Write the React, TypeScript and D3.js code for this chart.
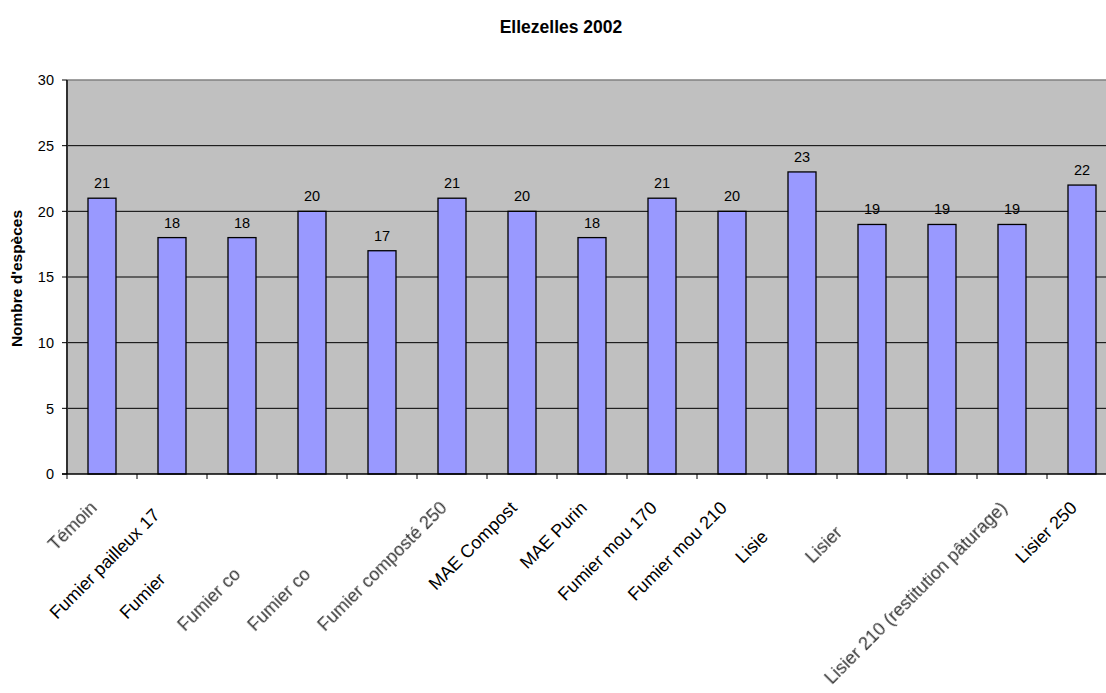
import React from "react";
import * as d3 from "d3";

const title = "Ellezelles 2002";
const yTitle = "Nombre d'espèces";
const categories = [
  "Témoin",
  "Fumier pailleux 170",
  "Fumier pailleux 210",
  "Fumier composté 170",
  "Fumier composté 210",
  "Fumier composté 250",
  "MAE Compost",
  "MAE Purin",
  "Fumier mou 170",
  "Fumier mou 210",
  "Lisier 170",
  "Lisier 210",
  "Lisier 170 (restitution pâturage)",
  "Lisier 210 (restitution pâturage)",
  "Lisier 250",
];
// part of each label that is visible in the reference (the rest is clipped)
const shownLabels = [
  "Témoin",
  "Fumier pailleux 17",
  "Fumier",
  "Fumier co",
  "Fumier co",
  "Fumier composté 250",
  "MAE Compost",
  "MAE Purin",
  "Fumier mou 170",
  "Fumier mou 210",
  "Lisie",
  "Lisier",
  "",
  "Lisier 210 (restitution pâturage)",
  "Lisier 250",
];
const values = [21, 18, 18, 20, 17, 21, 20, 18, 21, 20, 23, 19, 19, 19, 22];
const yTicks = [0, 5, 10, 15, 20, 25, 30];
const fadedLabels = [0, 3, 4, 5, 11, 13];

const W = 1106;
const H = 693;
const FONT = "'Liberation Sans', Arial, Helvetica, sans-serif";
const X_LABEL_SIZE = 18;

const plot = { left: 67, top: 80, bottom: 474, step: 70 };

function measure(text: string, size: number): number {
  if (typeof document === "undefined") return text.length * size * 0.55;
  const c = document.createElement("canvas");
  const ctx = c.getContext("2d");
  if (!ctx) return text.length * size * 0.55;
  ctx.font = `${size}px 'Liberation Sans', Arial, sans-serif`;
  return ctx.measureText(text).width;
}

export default function App() {
  const x = d3
    .scaleBand<string>()
    .domain(categories)
    .range([plot.left, plot.left + plot.step * categories.length])
    .padding(0);
  const y = d3.scaleLinear().domain([0, 30]).range([plot.bottom, plot.top]);
  const barW = x.bandwidth() * 0.4;
  const right = plot.left + plot.step * categories.length;

  return (
    <svg
      width={W}
      height={H}
      style={{ position: "absolute", left: 0, top: 0, background: "#fff" }}
      fontFamily={FONT}
    >
      <defs>
        <filter id="soft" x="-5%" y="-5%" width="110%" height="110%">
          <feGaussianBlur stdDeviation="0.55" />
        </filter>
      </defs>
      <rect x={0} y={0} width={W} height={H} fill="#fff" />
      <text x={561} y={33} textAnchor="middle" fontWeight="bold" fontSize={17.5}>
        {title}
      </text>
      {/* plot area */}
      <rect
        x={plot.left}
        y={plot.top}
        width={right - plot.left}
        height={plot.bottom - plot.top}
        fill="#C0C0C0"
      />
      <line x1={plot.left} x2={right} y1={y(30)} y2={y(30)} stroke="#808080" strokeWidth={1.5} />
      {yTicks
        .filter((t) => t > 0 && t < 30)
        .map((t) => (
          <line key={t} x1={plot.left} x2={right} y1={y(t)} y2={y(t)} stroke="#000" strokeWidth={1} />
        ))}
      {/* bars */}
      {values.map((v, i) => {
        const cx = (x(categories[i]) as number) + x.bandwidth() / 2;
        return (
          <g key={i}>
            <rect
              x={cx - barW / 2}
              y={y(v)}
              width={barW}
              height={y(0) - y(v)}
              fill="#9999FF"
              stroke="#000"
              strokeWidth={1.3}
            />
            <text x={cx} y={y(v) - 10} textAnchor="middle" fontSize={14.5} fill="#000">
              {v}
            </text>
          </g>
        );
      })}
      {/* axes */}
      <line x1={plot.left} x2={plot.left} y1={plot.top} y2={plot.bottom} stroke="#303030" strokeWidth={2} />
      <line x1={plot.left - 5} x2={right} y1={plot.bottom} y2={plot.bottom} stroke="#000" strokeWidth={1.5} />
      {yTicks.map((t) => (
        <g key={t}>
          <line x1={plot.left - 5} x2={plot.left} y1={y(t)} y2={y(t)} stroke="#000" strokeWidth={1} />
          <text x={54} y={y(t)} dy="0.36em" textAnchor="end" fontSize={14.5}>
            {t}
          </text>
        </g>
      ))}
      {d3.range(categories.length + 1).map((k) => {
        const xx = plot.left + k * plot.step;
        return <line key={k} x1={xx} x2={xx} y1={plot.bottom} y2={plot.bottom + 5} stroke="#000" strokeWidth={1} />;
      })}
      <text
        transform={`translate(22,${(205 + 352) / 2}) rotate(-90)`}
        textAnchor="middle"
        fontWeight="bold"
        fontSize={15.5}
      >
        {yTitle}
      </text>
      {/* x labels */}
      {categories.map((c, i) => {
        const cx = (x(c) as number) + x.bandwidth() / 2;
        const full = measure(c, X_LABEL_SIZE);
        const faded = fadedLabels.includes(i);
        if (!shownLabels[i]) return null;
        return (
          <g key={c} transform={`translate(${cx - 4},${plot.bottom + 35}) rotate(-45)`}>
            <text
              x={-full}
              y={0}
              textAnchor="start"
              fontSize={X_LABEL_SIZE}
              fill={faded ? "#333" : "#000"}
              filter={faded ? "url(#soft)" : undefined}
            >
              {shownLabels[i]}
            </text>
          </g>
        );
      })}
    </svg>
  );
}
